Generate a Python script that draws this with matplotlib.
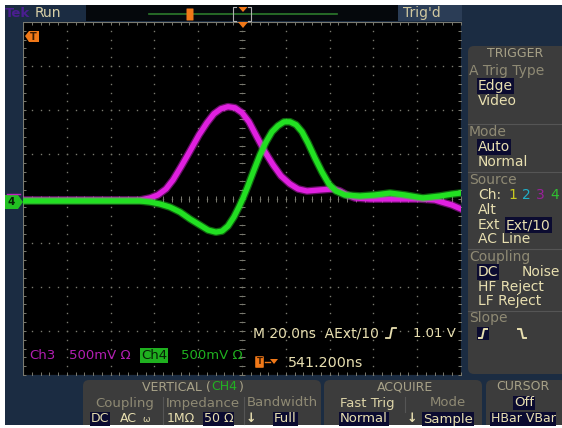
import numpy as np
import matplotlib.pyplot as plt
from matplotlib.patches import Rectangle, FancyBboxPatch, Polygon

# waveform samples: time in ns from screen centre, level in mV
t_ch3 = [-100, -46.6, -42.0, -38.4, -34.7, -31.5, -27.9, -23.7, -19.6, -16.0, -12.8,
         -9.6, -6.4, -3.2, 0.0, 3.2, 6.8, 10.5, 14.2, 17.8, 21.9, 25.6, 29.7,
         35.6, 41.6, 44.7, 48.0, 51.6, 58.4, 67.6, 81.3, 88.1, 92.7, 95.9, 100]
v_ch3 = [-17, -17, 6, 40, 108, 210, 358, 540, 722, 858, 960,
         1017, 1040, 1028, 972, 869, 699, 528, 381, 256, 165, 108, 85,
         97, 108, 85, 40, 6, -6, -6, -6, -17, -51, -74, -119]

t_ch4 = [-100, -46.6, -42.0, -37.4, -32.9, -28.3, -23.7, -19.2, -15.5, -11.9, -9.1,
         -6.4, -3.7, -1.4, 0.5, 2.7, 5.5, 8.2, 11.0, 13.7, 16.4, 19.2, 21.9,
         24.7, 27.4, 30.1, 33.3, 36.5, 39.7, 42.9, 47.0, 53.9, 60.7, 67.6, 74.4,
         82.6, 90.4, 95.9, 100]
v_ch4 = [-28, -28, -40, -63, -97, -153, -233, -301, -358, -381, -369,
         -312, -210, -97, 6, 142, 324, 494, 642, 756, 824, 869, 869,
         835, 756, 631, 460, 301, 165, 85, 40, 28, 40, 62, 40,
         6, 28, 50, 62]

NS_DIV = 20.0
MV_DIV = 500.0

W, H = 562, 428
NAVY = '#1b2c42'
PANEL = '#3c3c3c'
BRIGHT = '#e8dfb0'
DULL = '#8f8a74'
HEAD = '#a8a288'
SEL = '#0b0b30'
ORANGE = '#f07818'
MAGENTA = '#e020e0'
GREEN = '#22e022'

fig = plt.figure(figsize=(W / 100, H / 100), dpi=100)
fig.patch.set_facecolor('white')


def pixel_axes(z):
    a = fig.add_axes([0, 0, 1, 1])
    a.set_xlim(0, W)
    a.set_ylim(H, 0)
    a.axis('off')
    a.set_zorder(z)
    return a


bg = pixel_axes(0)   # frame and menus
ov = pixel_axes(3)   # markers over the screen edge


def txt(x, y, s, color=BRIGHT, size=10, ha='left', box=None, weight='normal', ax=bg, z=5):
    kw = {}
    if box is not None:
        kw['bbox'] = dict(boxstyle='square,pad=0.06', fc=box, ec='none')
    ax.text(x, y, s, color=color, fontsize=size, ha=ha, va='center',
            fontweight=weight, family='DejaVu Sans', zorder=z, **kw)


# frame
bg.add_patch(Rectangle((5, 5), W - 5, 420, fc=NAVY, ec='none', zorder=1))

# top status bar
bg.add_patch(Rectangle((86, 5), 312, 16, fc='#05080c', ec='none', zorder=2))
bg.add_patch(Rectangle((398, 5), 64, 16, fc='#2b3d56', ec='none', zorder=2))
txt(5, 13, 'Tek', color='#4a1e90', size=9.5, weight='bold')
txt(35, 13, 'Run', color='#d8d0a8', size=10)
txt(403, 13, "Trig'd", color='#d0c8a0', size=10)
bg.plot([149, 337], [14, 14], color='#2c7a2c', lw=1.2, zorder=3)
bg.add_patch(FancyBboxPatch((187, 9), 6, 11, boxstyle='round,pad=0.5', fc=ORANGE, ec='none', zorder=4))
bg.plot([236, 233, 233, 236], [7, 7, 21, 21], color='#b0b0b0', lw=0.8, zorder=4)
bg.plot([248, 251, 251, 248], [7, 7, 21, 21], color='#b0b0b0', lw=0.8, zorder=4)
bg.add_patch(Polygon([[238.5, 7], [247.5, 7], [243, 12]], fc=ORANGE, ec='none', zorder=4))

# right trigger menu
bg.add_patch(FancyBboxPatch((470, 48), 100, 324, boxstyle='round,pad=2,rounding_size=6',
                            fc=PANEL, ec='none', zorder=2))
txt(515, 53, 'TRIGGER', color=HEAD, size=9, ha='center')
txt(469, 71, 'A Trig Type', color=DULL)
txt(478, 86, 'Edge', box=SEL)
txt(478, 101, 'Video')
txt(469, 132, 'Mode', color=DULL)
txt(478, 147, 'Auto', box=SEL)
txt(478, 162, 'Normal')
txt(469, 180, 'Source', color=DULL)
txt(478, 195, 'Ch:')
txt(508, 195, '1', color='#c8c820')
txt(522, 195, '2', color='#20b0c8')
txt(536, 195, '3', color='#9a209a')
txt(550, 195, '4', color='#30c030')
txt(478, 210, 'Alt')
txt(478, 225, 'Ext')
txt(506, 225, 'Ext/10', box=SEL)
txt(478, 239, 'AC Line')
txt(469, 257, 'Coupling', color=DULL)
txt(478, 272, 'DC', box=SEL)
txt(522, 272, 'Noise')
txt(478, 287, 'HF Reject')
txt(478, 301, 'LF Reject')
txt(469, 318, 'Slope', color=DULL)
for ys in (124, 172, 249, 311):
    bg.plot([468, 562], [ys, ys], color='#555555', lw=0.8, zorder=3)
bg.add_patch(Rectangle((477, 327), 12, 13, fc=SEL, ec='none', zorder=3))
bg.plot([479, 482, 484, 487], [338, 338, 329, 329], color=BRIGHT, lw=1.4, zorder=4)
bg.plot([518, 521, 523, 526], [329, 329, 338, 338], color=BRIGHT, lw=1.4, zorder=4)

# bottom menus
for x0, w in ((83, 238), (324, 158), (486, 80)):
    bg.add_patch(FancyBboxPatch((x0 + 2, 382), w - 4, 50, boxstyle='round,pad=2,rounding_size=6',
                                fc=PANEL, ec='none', zorder=2))
bg.add_patch(Rectangle((0, 425), W, 3, fc='white', ec='none', zorder=3))
txt(176, 387, 'VERTICAL (', color=HEAD, size=9, ha='center')
txt(224, 387, 'CH4', color='#22b022', size=9, ha='center')
txt(241, 387, ')', color=HEAD, size=9, ha='center')
txt(125, 403, 'Coupling', color=DULL, size=9.5, ha='center')
txt(203, 403, 'Impedance', color=DULL, size=9.5, ha='center')
txt(282, 403, 'Bandwidth', color=DULL, size=9.5, ha='center')
bg.plot([163, 163], [397, 424], color='#555555', lw=0.8, zorder=3)
bg.plot([244, 244], [397, 424], color='#555555', lw=0.8, zorder=3)
txt(91, 419, 'DC', box=SEL, size=9)
txt(120, 419, 'AC', size=9)
txt(142, 419, '\u03c9', size=6.5)
txt(167, 419, '1M\u03a9', size=9)
txt(204, 419, '50 \u03a9', box=SEL, size=9)
txt(246, 419, '\u2193', size=9, weight='bold')
txt(274, 419, 'Full', box=SEL, size=9.5)
txt(405, 387, 'ACQUIRE', color=HEAD, size=9, ha='center')
txt(367, 403, 'Fast Trig', color='#ddd4a8', size=9.5, ha='center')
txt(448, 403, 'Mode', color=DULL, size=9.5, ha='center')
bg.plot([405, 405], [397, 412], color='#555555', lw=0.8, zorder=3)
txt(364, 419, 'Normal', box=SEL, size=9.5, ha='center')
txt(407, 419, '\u2193', size=9, weight='bold')
txt(448, 419, 'Sample', box=SEL, size=9.5, ha='center')
txt(523, 387, 'CURSOR', color=HEAD, size=9, ha='center')
txt(524, 403, 'Off', box=SEL, size=9.5, ha='center')
txt(523, 419, 'HBar VBar', box=SEL, size=9, ha='center')

# scope screen
sx0, sx1, sy0, sy1 = 23, 461, 22, 375
scr = fig.add_axes([sx0 / W, 1 - sy1 / H, (sx1 - sx0) / W, (sy1 - sy0) / H])
scr.set_zorder(1)
scr.set_facecolor('black')
scr.set_xlim(-5 * NS_DIV, 5 * NS_DIV)
scr.set_ylim(-4 * MV_DIV, 4 * MV_DIV)
scr.set_xticks([])
scr.set_yticks([])
for sp in scr.spines.values():
    sp.set_visible(False)

gcol = '#7a7a70'
minor_x = np.arange(-5 * NS_DIV, 5 * NS_DIV + 0.1, NS_DIV / 5)
minor_y = np.arange(-4 * MV_DIV, 4 * MV_DIV + 0.1, MV_DIV / 5)
for gx in np.arange(-4, 5) * NS_DIV:
    scr.plot(np.full_like(minor_y, gx), minor_y, ls='none', marker='s', ms=1.0, color=gcol, mew=0)
for gy in np.arange(-3, 4) * MV_DIV:
    scr.plot(minor_x, np.full_like(minor_x, gy), ls='none', marker='s', ms=1.0, color=gcol, mew=0)
# centre line ticks and edge ticks
scr.plot(minor_x, np.zeros_like(minor_x), ls='none', marker='|', ms=4, color=gcol, mew=0.7)
scr.plot(np.zeros_like(minor_y), minor_y, ls='none', marker='_', ms=4, color=gcol, mew=0.7)
for ey in (-4 * MV_DIV, 4 * MV_DIV):
    scr.plot(minor_x, np.full_like(minor_x, ey), ls='none', marker='|', ms=5, color=gcol, mew=0.7)
    scr.axhline(ey, color=gcol, lw=0.8)
for ex in (-5 * NS_DIV, 5 * NS_DIV):
    scr.plot(np.full_like(minor_y, ex), minor_y, ls='none', marker='_', ms=5, color=gcol, mew=0.7)
    scr.axvline(ex, color=gcol, lw=0.8)

# traces (persistence envelope + core)
scr.plot(t_ch3, v_ch3, color=MAGENTA, lw=5.6, alpha=0.45, solid_joinstyle='round', zorder=3)
scr.plot(t_ch3, v_ch3, color=MAGENTA, lw=3.8, solid_joinstyle='round', zorder=4)
scr.plot(t_ch4, v_ch4, color=GREEN, lw=5.6, alpha=0.45, solid_joinstyle='round', zorder=5)
scr.plot(t_ch4, v_ch4, color=GREEN, lw=3.8, solid_joinstyle='round', zorder=6)

# readouts on screen
ry1 = -3.56 * MV_DIV
ry2 = -3.06 * MV_DIV
ry3 = -3.72 * MV_DIV
txt(-97, ry1, 'Ch3', color='#b21eb2', size=9.5, ax=scr, z=8)
txt(-79, ry1, '500mV \u03a9', color='#b21eb2', size=9.5, ax=scr, z=8)
txt(-46, ry1, 'Ch4', color='#062006', size=9.5, box='#1fb01f', ax=scr, z=8)
txt(-28, ry1, '500mV \u03a9', color='#1fb01f', size=9.5, ax=scr, z=8)
txt(5, ry2, 'M 20.0ns  AExt/10', color=BRIGHT, size=10, ax=scr, z=8)
txt(78, ry2, '1.01 V', color=BRIGHT, size=9.5, ax=scr, z=8)
txt(21, ry3, '541.200ns', color=BRIGHT, size=10.3, ax=scr, z=8)

# rising-edge glyph after AExt/10
ov.plot([386, 390, 392, 396], [338, 338, 328, 328], color=BRIGHT, lw=1.3, zorder=6)

# markers drawn in pixel space
ov.add_patch(FancyBboxPatch((256, 357), 7, 10, boxstyle='round,pad=0.8', fc=ORANGE, ec='none', zorder=6))
ov.text(259.5, 362, 'T', color='#3a1a00', fontsize=6, ha='center', va='center', weight='bold', zorder=7)
ov.plot([265, 270], [362, 362], color=ORANGE, lw=1, zorder=6)
ov.add_patch(Polygon([[270, 359], [278, 359], [274, 364]], fc=ORANGE, ec='none', zorder=6))

ov.add_patch(Polygon([[25, 36], [29, 31], [39, 31], [39, 42], [29, 42]], fc=ORANGE, ec='none', zorder=6))
ov.text(33.5, 36.5, 'T', color='#3a1a00', fontsize=7, ha='center', va='center', weight='bold', zorder=7)
ov.add_patch(Polygon([[238, 22], [248, 22], [243, 28]], fc=ORANGE, ec='none', zorder=6))
ov.add_patch(Polygon([[5, 195], [18, 195], [23, 202], [18, 209], [5, 209]], fc='#22c022', ec='none', zorder=6))
ov.plot([7, 20], [194, 194], color='#c020c0', lw=1, zorder=6)
ov.text(11.5, 202, '4', color='#062006', fontsize=7.5, ha='center', va='center', weight='bold', zorder=7)

fig.savefig('out.png', dpi=100, facecolor=fig.get_facecolor())
